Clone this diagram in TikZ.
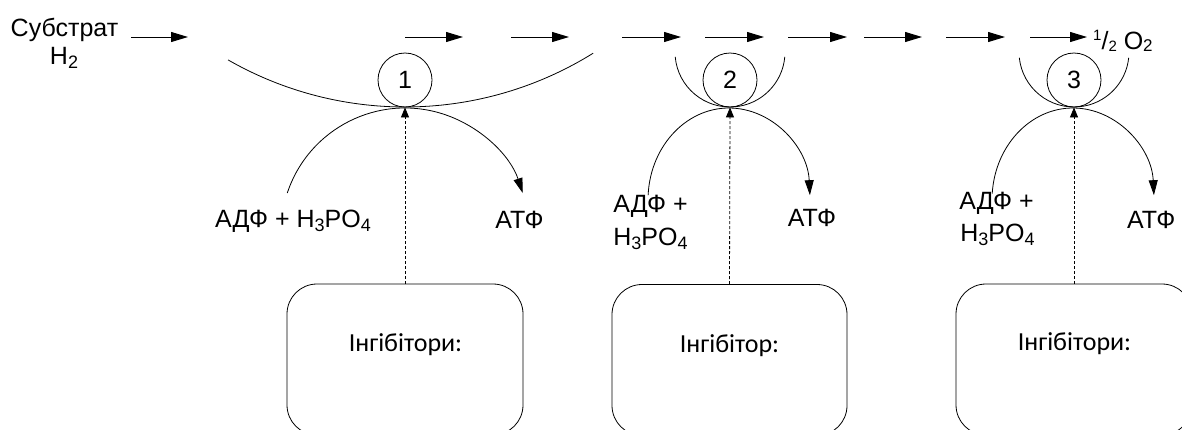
\documentclass[tikz,border=0pt]{standalone}
\usepackage{fontspec}
\setmainfont{Liberation Sans}
\newfontfamily\carl{Carlito}
\usetikzlibrary{arrows.meta}
\newcommand{\lowidx}[1]{\raisebox{-4pt}{\fontsize{18}{18}\selectfont #1}}
\tikzset{
  txt/.style={inner sep=0pt, font=\fontsize{25}{28}\selectfont},
  boxtxt/.style={inner sep=0pt, font=\carl\fontsize{26}{28}\selectfont},
  flow/.style={line width=1pt, -{Triangle[length=17pt,width=10pt]}},
  thin/.style={line width=0.8pt},
  curvearrow/.style={line width=0.8pt, -{Triangle[length=15pt,width=9pt]}},
  inhib/.style={line width=0.8pt, dash pattern=on 3pt off 2pt, -{Triangle[length=10pt,width=8pt]}},
  enz/.style={circle, draw, line width=0.8pt, minimum size=54pt, inner sep=0pt, font=\fontsize{25}{28}\selectfont},
  inbox/.style={draw, line width=0.8pt, rounded corners=30pt, minimum height=151pt, inner sep=0pt}
}
\begin{document}
\begin{tikzpicture}[x=1pt,y=1pt]
\useasboundingbox (0,0) rectangle (1182,-429);
\clip (0,0) rectangle (1182,-429);
% substrate
\node[txt, anchor=base] (sub) at (64.5,-36) {Субстрат};
\node[txt, anchor=base] (h2) at (64,-64) {H\lowidx{2}};
\coordinate (s0) at (131,-37); \coordinate (e0) at (188,-37);
\draw[flow] (s0) -- (e0);
% chain arrows
\foreach \i/\a/\b in {1/405/463, 2/511/569, 3/622/681, 4/705/764, 5/788/847, 6/864/922, 7/946/1005, 8/1030/1087}{
  \coordinate (s\i) at (\a,-37); \coordinate (e\i) at (\b,-37);
  \draw[flow] (s\i) -- (e\i);
}
\node[txt, anchor=base west] (o2) at (1093,-49) {\raisebox{9pt}{\fontsize{15}{15}\selectfont 1}/\raisebox{-2pt}{\fontsize{15}{15}\selectfont 2} O\raisebox{-2pt}{\fontsize{17}{17}\selectfont 2}};
% enzyme complexes
\node[enz] (c1) at (405,-80) {1};
\node[enz] (c2) at (730,-80) {2};
\node[enz] (c3) at (1074,-80) {3};
\draw[thin] (405,249) ++(240.2:356) arc[start angle=240.2, end angle=301.9, radius=356];
\draw[thin] (730,-52) ++(185:55) arc[start angle=185, end angle=355, radius=55];
\draw[thin] (1074,-52) ++(186:55) arc[start angle=186, end angle=354, radius=55];
% ATP synthesis domes
\draw[curvearrow] (405,-232) ++(161.7:124) arc[start angle=161.7, end angle=18.3, radius=124];
\draw[curvearrow] (729,-200) ++(177:81 and 92) arc[start angle=177, end angle=3, x radius=81, y radius=92];
\draw[curvearrow] (1073,-200) ++(176:81 and 92) arc[start angle=176, end angle=3, x radius=81, y radius=92];
% labels
\node[txt, anchor=base west] (adp1) at (215,-227) {АДФ + H\lowidx{3}PO\lowidx{4}};
\node[txt, anchor=base] (atp1) at (519.5,-228) {АТФ};
\node[txt, anchor=base] (adp2a) at (650.5,-212) {АДФ +};
\node[txt, anchor=base] (adp2b) at (650.5,-245) {H\lowidx{3}PO\lowidx{4}};
\node[txt, anchor=base] (atp2) at (812,-226) {АТФ};
\node[txt, anchor=base] (adp3a) at (996.5,-209) {АДФ +};
\node[txt, anchor=base] (adp3b) at (997.5,-241) {H\lowidx{3}PO\lowidx{4}};
\node[txt, anchor=base west] (atp3) at (1127,-228) {АТФ};
% inhibitor boxes
\node[inbox, minimum width=236pt] (b1) at (405,-359.5) {};
\node[inbox, minimum width=235pt] (b2) at (729.5,-360) {};
\node[inbox, minimum width=236pt] (b3) at (1074,-359.5) {};
\node[boxtxt, anchor=base] (t1) at (405.5,-351) {Інгібітори:};
\node[boxtxt, anchor=base] (t2) at (729.5,-352) {Інгібітор:};
\node[boxtxt, anchor=base] (t3) at (1074.5,-350) {Інгібітори:};
\draw[inhib] (b1.north) -- (c1.south);
\draw[inhib] (b2.north) -- (c2.south);
\draw[inhib] (b3.north) -- (c3.south);
\end{tikzpicture}
\end{document}
